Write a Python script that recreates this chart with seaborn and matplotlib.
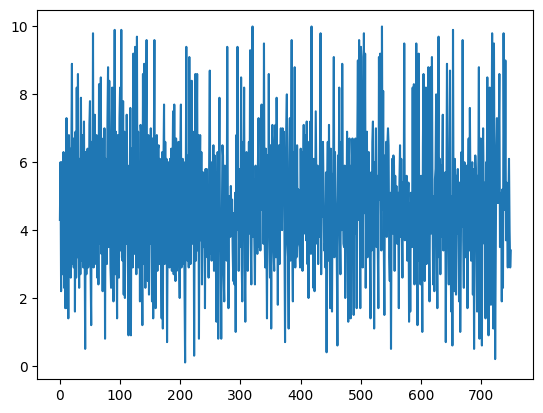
import numpy as np
import seaborn as sns
import matplotlib
matplotlib.use("Agg")
import matplotlib.pyplot as plt

# values, in blocks along the x axis
seg_a = [
    4.3, 6.0, 2.2, 6.0, 2.7, 5.9, 6.3, 2.3, 6.2, 1.7,
    5.4, 7.3, 1.7, 6.1, 1.4, 6.8, 3.3, 6.4, 2.6, 6.2,
    8.9, 3.0, 6.7, 2.9, 6.6, 1.6, 6.9, 2.6, 8.2, 3.2,
    8.6, 3.9, 2.3, 6.1, 2.7, 7.9, 3.1, 6.8, 6.4, 2.9,
    7.2, 3.6, 0.5, 6.3, 2.7, 5.9, 6.4, 2.9, 3.5, 7.1,
    7.8, 2.8, 1.2, 6.6, 3.4, 9.8, 2.9, 6.9, 7.4, 3.1,
    3.0, 6.8, 2.6, 6.2, 2.4, 8.3, 3.6, 6.9, 8.5, 3.3,
    6.3, 2.2, 6.7, 3.3, 7.0, 0.8, 6.1, 6.0, 3.0, 7.2,
    8.8, 3.5, 8.4, 5.7, 2.9, 2.3, 6.6, 8.2, 3.8, 1.9,
    5.8, 9.9, 2.7, 6.9, 3.6, 1.4, 6.8, 6.1, 2.6, 7.3,
    8.2, 3.4, 9.9, 3.2, 3.1, 7.8, 2.1, 6.9, 2.0, 6.2,
    3.6, 7.4, 5.1, 2.8, 0.9, 5.9, 3.2, 7.6, 0.9, 6.4,
]
seg_b = [
    6.3, 2.9, 9.2, 3.4, 3.3, 9.4, 5.6, 2.7, 9.7, 3.1,
    6.9, 2.9, 6.0, 1.9, 7.1, 6.8, 3.7, 1.2, 8.6, 3.0,
    8.9, 3.6, 2.3, 7.0, 9.6, 3.3, 2.5, 6.8, 2.1, 6.5,
    3.6, 7.0, 4.5, 1.9, 6.7, 1.4, 6.2, 9.6, 3.2, 1.7,
    5.9, 6.8, 2.8, 6.4, 6.5, 3.0, 6.1, 4.7, 3.2, 1.4,
    6.3, 1.1, 5.9, 7.7, 3.0, 6.6, 3.4, 6.1, 0.7, 3.8,
    6.0, 4.3, 2.9, 6.1, 3.1, 6.4, 2.8, 5.6, 7.5, 2.7,
    7.7, 3.4, 2.5, 6.7, 2.8, 5.9, 3.7, 6.6, 3.3, 2.0,
    6.2, 7.7, 2.9, 5.5, 6.1, 3.0, 6.0, 2.3, 0.1, 4.9,
    9.4, 3.3, 3.1, 6.2, 2.9, 9.1, 4.7, 3.0, 6.4, 8.4,
    3.6, 6.9, 6.3, 0.3, 5.2, 8.6, 3.1, 6.2, 8.6, 3.4,
    6.8, 0.8, 5.4, 6.8, 3.7, 6.3, 2.4, 4.3, 5.7, 3.5,
    5.6, 1.7, 5.8, 3.9, 5.8,
]
seg_c = [
    3.2, 5.1, 2.6, 6.2, 8.7, 3.3, 6.0, 3.1, 4.7, 5.6,
    6.5, 2.8, 6.2, 5.4, 3.2, 1.3, 4.6, 6.3, 0.8, 5.1,
    7.9, 3.4, 3.6, 0.8, 4.2, 6.5, 6.2, 2.7, 1.9, 5.9,
    3.4, 5.2, 3.1, 9.4, 4.6, 1.7, 5.0, 4.2, 3.8, 5.3,
    3.9, 4.9, 3.4, 2.5, 4.5, 2.4, 5.1, 1.0, 6.8, 4.0,
    9.4, 5.2, 2.8, 4.3, 5.8, 3.5, 8.5, 3.0, 1.9, 6.6,
    4.3, 8.2, 2.9, 1.3, 4.7, 6.3, 3.4, 2.8, 4.7, 6.6,
    3.9, 9.3, 3.6, 2.4, 5.3, 10.0, 3.8, 5.5, 3.7, 2.4,
    5.9, 3.6, 5.3, 3.3, 6.0, 7.3, 3.5, 5.1, 3.4, 6.2,
    7.7, 4.6, 5.6, 3.6, 9.5, 3.9, 2.9, 6.4, 4.0, 1.4,
    6.2, 3.8, 8.6, 3.7, 2.6, 6.5, 1.1, 5.4, 7.1, 3.9,
    3.3, 2.8, 6.6, 7.1, 3.2, 7.9, 5.5, 1.8, 5.8, 6.5,
    3.0, 6.2, 7.0, 5.6, 4.0,
]
seg_d = [
    7.0, 5.3, 6.9, 4.0, 0.7, 5.5, 6.9, 8.0, 3.6, 3.2,
    1.1, 6.0, 7.3, 3.1, 6.2, 9.6, 3.5, 1.9, 6.3, 3.6,
    8.8, 2.9, 6.0, 3.2, 6.5, 3.9, 5.2, 3.6, 3.5, 2.9,
    6.4, 4.1, 6.3, 2.8, 5.5, 7.1, 3.9, 4.5, 6.8, 3.7,
    7.2, 3.0, 4.3, 2.0, 6.6, 4.4, 7.2, 3.3, 10.0, 3.7,
    5.9, 2.3, 6.1, 2.2, 4.8, 7.5, 5.5, 3.6, 5.9, 3.0,
    5.4, 3.8, 6.2, 9.8, 2.7, 6.2, 4.4, 6.6, 5.0, 3.4,
    3.6, 2.9, 5.7, 0.4, 5.3, 6.6, 3.1, 7.1, 3.8, 1.7,
    6.4, 3.9, 1.6, 5.6, 5.7, 9.1, 3.2, 6.3, 5.0, 4.2,
    3.1, 0.6, 6.2, 4.5, 8.2, 3.9, 2.7, 6.6, 4.0, 8.9,
    5.3, 3.6, 3.5, 5.9, 2.0, 5.7, 3.8, 6.9, 3.4, 1.3,
    6.1, 6.7, 4.2, 1.4, 5.9, 3.6, 6.7, 3.5, 1.5, 6.2,
    3.9, 6.7, 4.8, 1.7, 6.6,
]
seg_e = [
    9.0, 4.3, 9.6, 5.1, 1.7, 9.4, 9.1, 4.8, 2.9, 6.0,
    9.8, 4.5, 9.2, 2.3, 5.4, 6.9, 3.2, 3.8, 6.3, 4.9,
    3.2, 1.4, 5.7, 3.4, 6.6, 7.2, 4.6, 1.1, 6.0, 3.9,
    7.0, 3.5, 5.6, 3.8, 1.7, 9.1, 4.9, 9.2, 5.3, 3.4,
    10.0, 4.6, 8.1, 3.7, 1.5, 6.2, 4.4, 6.6, 3.8, 6.5,
    7.0, 6.5, 3.2, 2.5, 5.1, 0.5, 4.7, 6.1, 3.9, 6.2,
    5.9, 2.8, 5.6, 4.0, 5.3, 3.6, 4.0, 5.1, 1.7, 5.4,
    6.5, 3.8, 6.1, 3.9, 2.6, 5.4, 3.9, 9.5, 3.7, 5.0,
    4.0, 5.6, 3.1, 4.5, 5.4, 1.3, 4.8, 1.6, 5.1, 4.7,
    3.5, 8.2, 3.6, 8.3, 2.4, 6.0, 4.3, 9.5, 3.9, 1.2,
    6.6, 9.2, 3.1, 5.3, 2.4, 5.6, 3.7, 1.0, 6.5, 8.6,
    3.4, 2.5, 6.2, 8.2, 3.0, 6.0, 5.1, 8.8, 3.3, 1.9,
    6.4, 8.8, 3.9, 9.1, 4.7,
]
seg_f = [
    2.4, 5.0, 2.2, 5.5, 5.8, 8.0, 3.6, 1.7, 6.3, 9.7,
    3.2, 6.1, 2.7, 5.9, 3.8, 5.8, 7.4, 3.4, 5.6, 3.6,
    5.7, 0.7, 5.2, 8.9, 3.5, 3.9, 2.4, 6.5, 8.7, 3.3,
    1.6, 5.0, 0.6, 9.9, 3.8, 2.2, 6.1, 5.4, 2.1, 5.6,
    3.9, 5.8, 4.2, 1.9, 5.4, 1.0, 3.4, 6.3, 4.1, 9.6,
    3.7, 2.3, 6.0, 5.7, 3.2, 3.6, 5.9, 1.7, 5.2, 6.7,
    3.4, 7.6, 5.1, 3.1, 5.6, 6.0, 2.1, 5.8, 0.5, 4.3,
    6.2, 5.7, 3.9, 1.6, 5.6, 5.3, 8.8, 0.8, 4.9, 6.7,
    3.2, 0.6, 5.5, 7.0, 5.1, 3.6, 5.4, 1.4, 6.0, 4.7,
    8.5, 3.1, 0.9, 6.2, 8.2, 3.6, 1.8, 6.3, 9.8, 3.4,
    1.1, 9.5, 4.9, 0.2, 3.6, 6.4, 7.3, 4.8, 4.8, 6.7,
    8.6, 3.5, 3.6, 5.1, 1.9, 5.2, 2.3, 9.8, 6.0, 4.6,
    9.0, 3.7, 5.4, 4.1, 2.9, 4.8, 6.1, 4.0, 2.9, 3.4,
]

values = seg_a + seg_b + seg_c + seg_d + seg_e + seg_f
steps = np.arange(len(values))

fig, ax = plt.subplots(figsize=(6.4, 4.8), dpi=100)
sns.lineplot(x=steps, y=values, ax=ax, estimator=None, color="#1f77b4", linewidth=1.5)

plt.savefig("out.png", dpi=100, bbox_inches="tight")
plt.close(fig)
